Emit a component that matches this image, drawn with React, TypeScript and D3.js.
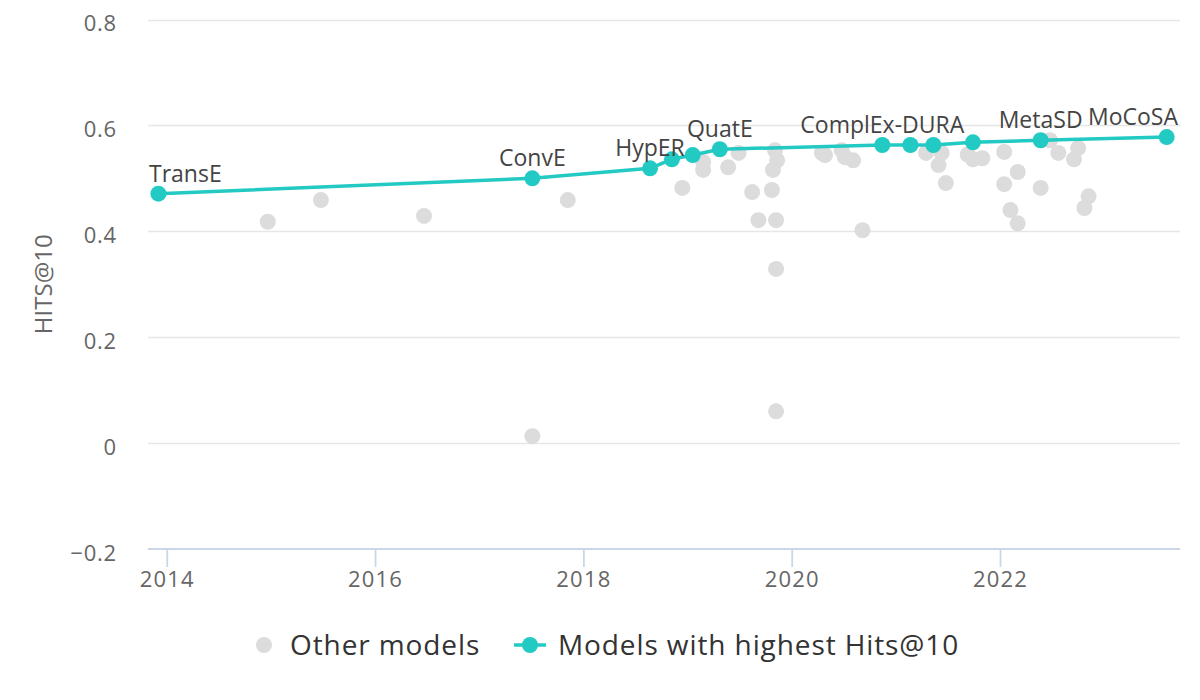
import React, { useEffect, useRef } from 'react';
import * as d3 from 'd3';

// gray dots: all other models (year of publication, Hits@10)
const otherYears = [
  2014.97, 2015.48, 2016.47, 2017.51, 2017.85, 2018.95, 2019.15, 2019.15, 2019.39, 2019.49,
  2019.62, 2019.68, 2019.81, 2019.85, 2019.85, 2019.85, 2019.84, 2019.86, 2019.82, 2020.29,
  2020.32, 2020.48, 2020.51, 2020.59, 2020.68, 2021.29, 2021.44, 2021.41, 2021.48, 2021.69,
  2021.74, 2021.83, 2022.04, 2022.17, 2022.04, 2022.39, 2022.10, 2022.17, 2022.48, 2022.56,
  2022.75, 2022.71, 2022.85, 2022.81,
];
const otherHits = [
  0.418, 0.459, 0.429, 0.013, 0.459, 0.482, 0.531, 0.516, 0.521, 0.548,
  0.474, 0.421, 0.478, 0.421, 0.329, 0.060, 0.553, 0.534, 0.516, 0.548,
  0.544, 0.553, 0.540, 0.534, 0.402, 0.548, 0.548, 0.525, 0.491, 0.545,
  0.536, 0.538, 0.550, 0.512, 0.489, 0.482, 0.440, 0.415, 0.572, 0.548,
  0.557, 0.536, 0.466, 0.444,
];

// teal line: state of the art over time
const bestYears = [2013.92, 2017.51, 2018.64, 2018.85, 2019.05, 2019.31, 2020.87, 2021.14, 2021.36, 2021.74, 2022.39, 2023.60];
const bestHits = [0.471, 0.500, 0.519, 0.536, 0.544, 0.555, 0.563, 0.563, 0.563, 0.568, 0.572, 0.578];
const bestLabels = ['TransE', 'ConvE', 'HypER', '', '', 'QuatE', 'ComplEx-DURA', '', '', '', 'MetaSD', 'MoCoSA'];

const xTicks = [2014, 2016, 2018, 2020, 2022];
const yTicks = [-0.2, 0, 0.2, 0.4, 0.6, 0.8];
const legendLabels = ['Other models', 'Models with highest Hits@10'];

const TEAL = '#22cac3';
const GRAY = '#dcdcdc';
const FONT = "'Open Sans', sans-serif";

const App: React.FC = () => {
  const ref = useRef<SVGSVGElement | null>(null);

  useEffect(() => {
    if (!ref.current) return;
    const svg = d3.select(ref.current);
    svg.selectAll('*').remove();

    const left = 148, right = 1180, top = 19.5, bottom = 549;
    const x = d3.scaleLinear().domain([2013.82, 2023.728]).range([left, right]);
    const y = d3.scaleLinear().domain([-0.2, 0.8]).range([bottom, top]);

    // grid
    svg.append('g')
      .selectAll('line')
      .data(yTicks.filter(v => v > -0.2))
      .join('line')
      .attr('x1', left).attr('x2', right)
      .attr('y1', d => Math.round(y(d)) + 0.5).attr('y2', d => Math.round(y(d)) + 0.5)
      .attr('stroke', '#e6e6e6').attr('stroke-width', 1.5);

    // y labels
    const fmt = d3.format('.1f');
    svg.append('g')
      .selectAll('text')
      .data(yTicks)
      .join('text')
      .attr('x', 117).attr('y', d => y(d) + 11.5)
      .attr('text-anchor', 'end')
      .attr('font-family', FONT).attr('font-size', 22).attr('fill', '#666')
      .attr('letter-spacing', 0.8)
      .text(d => (d === 0 ? '0' : fmt(d)));

    // y title
    svg.append('text')
      .attr('transform', `translate(52,${(top + bottom) / 2}) rotate(-90)`)
      .attr('text-anchor', 'middle')
      .attr('font-family', FONT).attr('font-size', 24).attr('fill', '#666')
      .text('HITS@10');

    // x axis
    const xAxis = svg.append('g')
      .attr('transform', `translate(0,${bottom})`)
      .call(d3.axisBottom(x).tickValues(xTicks).tickSize(18).tickSizeOuter(0).tickFormat(d => String(d)));
    xAxis.select('.domain').attr('stroke', '#ccd6eb').attr('stroke-width', 1.8)
      .attr('d', `M${left},0H${right}`);
    xAxis.selectAll('.tick line').attr('stroke', '#ccd6eb').attr('stroke-width', 1.8);
    xAxis.selectAll('.tick text')
      .attr('y', 38).attr('dy', null)
      .attr('font-family', FONT).attr('font-size', 22).attr('fill', '#666')
      .attr('letter-spacing', 1.2);

    // other models
    svg.append('g')
      .selectAll('circle')
      .data(otherYears.map((yr, i) => [yr, otherHits[i]]))
      .join('circle')
      .attr('cx', d => x(d[0])).attr('cy', d => y(d[1]))
      .attr('r', 8).attr('fill', GRAY);

    // best line
    const best = bestYears.map((yr, i) => ({ yr, v: bestHits[i], label: bestLabels[i] }));
    const line = d3.line<{ yr: number; v: number }>().x(d => x(d.yr)).y(d => y(d.v));
    svg.append('path')
      .attr('d', line(best) || '')
      .attr('fill', 'none').attr('stroke', TEAL).attr('stroke-width', 3.5);
    svg.append('g')
      .selectAll('circle')
      .data(best)
      .join('circle')
      .attr('cx', d => x(d.yr)).attr('cy', d => y(d.v))
      .attr('r', 8).attr('fill', TEAL);

    // data labels, kept inside the plot area
    svg.append('g')
      .selectAll('text')
      .data(best.filter(d => d.label))
      .join('text')
      .attr('y', d => y(d.v) - 12)
      .attr('font-family', FONT).attr('font-size', 23).attr('fill', '#444')
      .text(d => d.label)
      .each(function (d) {
        const w = (this as SVGTextElement).getComputedTextLength();
        let sx = x(d.yr) - w / 2;
        if (sx < left + 1) sx = left + 1;
        if (sx + w > right - 2) sx = right - 2 - w;
        d3.select(this).attr('x', sx);
      });

    // legend
    const ly = 645;
    const lg = svg.append('g').attr('font-family', FONT).attr('font-size', 28).attr('fill', '#333')
      .attr('letter-spacing', 0.9);
    lg.append('circle').attr('cx', 264).attr('cy', ly).attr('r', 8).attr('fill', GRAY);
    lg.append('text').attr('x', 290).attr('y', ly + 10).text(legendLabels[0]);
    lg.append('line').attr('x1', 514).attr('x2', 546).attr('y1', ly).attr('y2', ly)
      .attr('stroke', TEAL).attr('stroke-width', 3.5);
    lg.append('circle').attr('cx', 530).attr('cy', ly).attr('r', 8).attr('fill', TEAL);
    lg.append('text').attr('x', 558).attr('y', ly + 10).text(legendLabels[1]);
  }, []);

  return (
    <svg
      ref={ref}
      width={1200}
      height={700}
      style={{ position: 'absolute', left: 0, top: 0, background: '#fff' }}
    />
  );
};

export default App;
